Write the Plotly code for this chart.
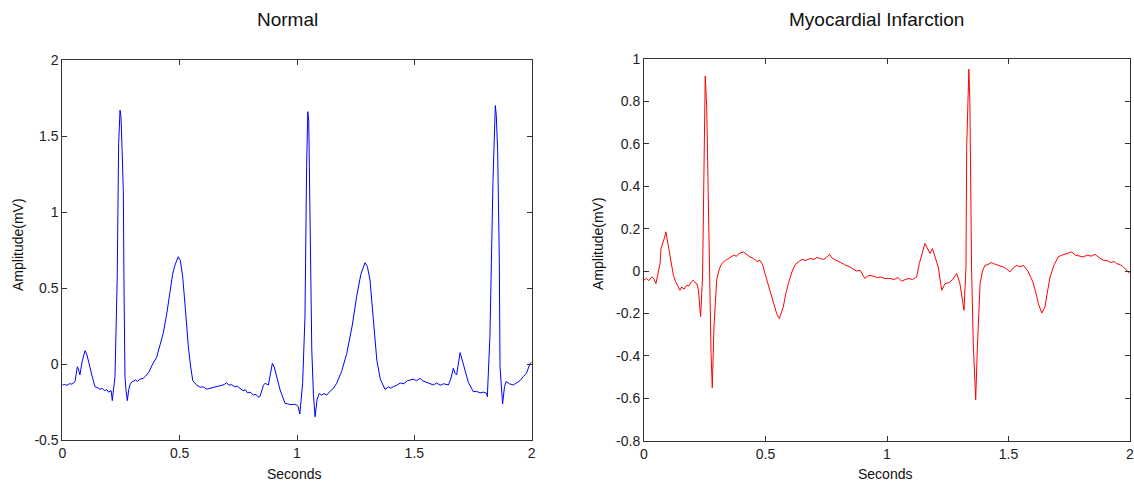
import plotly.graph_objects as go

# Normal ECG lead trace (seconds, mV)
normal_t = [0.000, 0.010, 0.020, 0.030, 0.040, 0.047, 0.055, 0.060, 0.064, 0.070, 0.075,
            0.085, 0.097, 0.105, 0.115, 0.127, 0.139, 0.150, 0.161, 0.170, 0.180, 0.190,
            0.197, 0.203, 0.208, 0.213, 0.2245, 0.234, 0.240, 0.246, 0.250, 0.255, 0.260,
            0.263, 0.267, 0.272, 0.277, 0.283, 0.288, 0.295, 0.303, 0.312, 0.320, 0.330,
            0.345, 0.355, 0.370, 0.385, 0.402, 0.415, 0.430, 0.445, 0.459, 0.470, 0.480,
            0.494, 0.503, 0.513, 0.525, 0.537, 0.547, 0.556, 0.570, 0.587, 0.600, 0.615,
            0.629, 0.645, 0.660, 0.680, 0.690, 0.700, 0.710, 0.720, 0.735, 0.745, 0.757,
            0.770, 0.780, 0.790, 0.800, 0.814, 0.825, 0.835, 0.842, 0.850, 0.857, 0.864,
            0.872, 0.878, 0.885, 0.895, 0.903, 0.911, 0.920, 0.928, 0.935, 0.949, 0.960,
            0.975, 0.988, 0.999, 1.005, 1.012, 1.024, 1.034, 1.041, 1.046, 1.050, 1.055,
            1.063, 1.070, 1.077, 1.086, 1.095, 1.105, 1.115, 1.127, 1.140, 1.155, 1.169,
            1.190, 1.212, 1.235, 1.254, 1.272, 1.290, 1.300, 1.311, 1.325, 1.340, 1.355,
            1.375, 1.390, 1.400, 1.410, 1.425, 1.440, 1.455, 1.470, 1.481, 1.495, 1.510,
            1.524, 1.535, 1.550, 1.565, 1.581, 1.595, 1.610, 1.625, 1.645, 1.655, 1.666,
            1.673, 1.680, 1.695, 1.705, 1.716, 1.730, 1.751, 1.765, 1.780, 1.795, 1.808,
            1.811, 1.822, 1.835, 1.845, 1.849, 1.855, 1.862, 1.865, 1.870, 1.876, 1.884,
            1.891, 1.905, 1.922, 1.935, 1.950, 1.964, 1.978, 1.993, 2.000]
normal_mv = [-0.138, -0.135, -0.140, -0.130, -0.132, -0.127, -0.110, -0.070, -0.018, -0.040, -0.072,
             0.020, 0.088, 0.060, 0.004, -0.080, -0.149, -0.155, -0.167, -0.160, -0.175, -0.168,
             -0.185, -0.182, -0.175, -0.241, -0.083, 0.570, 1.450, 1.670, 1.630, 1.400, 1.140,
             0.500, -0.083, -0.180, -0.241, -0.170, -0.138, -0.120, -0.112, -0.105, -0.115, -0.100,
             -0.094, -0.080, -0.050, 0.000, 0.044, 0.110, 0.202, 0.330, 0.487, 0.590, 0.650,
             0.706, 0.680, 0.574, 0.350, 0.114, -0.020, -0.110, -0.135, -0.153, -0.150, -0.165,
             -0.160, -0.155, -0.150, -0.140, -0.135, -0.123, -0.140, -0.135, -0.150, -0.145, -0.160,
             -0.175, -0.170, -0.190, -0.185, -0.204, -0.200, -0.218, -0.215, -0.180, -0.140, -0.127,
             -0.133, -0.138, -0.080, 0.004, -0.020, -0.072, -0.140, -0.171, -0.200, -0.259, -0.262,
             -0.268, -0.265, -0.270, -0.280, -0.329, -0.127, 0.311, 1.300, 1.660, 1.600, 1.000,
             0.092, -0.200, -0.347, -0.230, -0.193, -0.205, -0.195, -0.204, -0.180, -0.160, -0.127,
             -0.050, 0.070, 0.250, 0.443, 0.590, 0.667, 0.640, 0.553, 0.300, 0.026, -0.100,
             -0.167, -0.150, -0.160, -0.149, -0.140, -0.125, -0.130, -0.110, -0.105, -0.100, -0.110,
             -0.094, -0.110, -0.120, -0.130, -0.138, -0.125, -0.140, -0.130, -0.138, -0.100, -0.028,
             -0.060, -0.072, 0.075, 0.020, -0.039, -0.120, -0.182, -0.180, -0.190, -0.185, -0.193,
             -0.215, 0.180, 1.200, 1.700, 1.640, 1.400, 0.680, -0.018, -0.150, -0.263, -0.150,
             -0.116, -0.130, -0.138, -0.125, -0.110, -0.083, -0.060, 0.004, 0.010]

# Myocardial infarction trace (seconds, mV)
mi_t = [0.000, 0.010, 0.020, 0.032, 0.040, 0.049, 0.058, 0.066, 0.070, 0.078, 0.085,
        0.090, 0.095, 0.104, 0.112, 0.121, 0.130, 0.140, 0.148, 0.155, 0.165, 0.176,
        0.185, 0.195, 0.203, 0.210, 0.218, 0.224, 0.233, 0.241, 0.247, 0.252, 0.258,
        0.263, 0.269, 0.276, 0.281, 0.288, 0.299, 0.310, 0.320, 0.335, 0.350, 0.368,
        0.380, 0.395, 0.409, 0.420, 0.436, 0.450, 0.465, 0.477, 0.488, 0.498, 0.510,
        0.525, 0.536, 0.546, 0.557, 0.565, 0.573, 0.583, 0.594, 0.610, 0.622, 0.635,
        0.650, 0.665, 0.683, 0.700, 0.712, 0.724, 0.740, 0.752, 0.763, 0.775, 0.793,
        0.810, 0.825, 0.838, 0.848, 0.860, 0.875, 0.889, 0.900, 0.909, 0.918, 0.930,
        0.945, 0.960, 0.975, 0.990, 1.012, 1.030, 1.045, 1.060, 1.075, 1.090, 1.105,
        1.122, 1.133, 1.145, 1.156, 1.165, 1.177, 1.187, 1.198, 1.211, 1.225, 1.239,
        1.255, 1.270, 1.287, 1.300, 1.317, 1.325, 1.328, 1.333, 1.337, 1.341, 1.344,
        1.348, 1.355, 1.365, 1.372, 1.383, 1.393, 1.403, 1.415, 1.428, 1.438, 1.450,
        1.465, 1.479, 1.492, 1.506, 1.520, 1.533, 1.548, 1.561, 1.580, 1.600, 1.612,
        1.623, 1.637, 1.650, 1.660, 1.671, 1.688, 1.705, 1.720, 1.735, 1.760, 1.775,
        1.790, 1.808, 1.825, 1.840, 1.856, 1.870, 1.890, 1.905, 1.920, 1.935, 1.945,
        1.960, 1.973, 1.985, 2.000]
mi_mv = [-0.043, -0.035, -0.045, -0.028, -0.035, -0.059, -0.010, 0.035, 0.106, 0.130, 0.160,
         0.185, 0.150, 0.083, 0.030, -0.020, -0.050, -0.070, -0.091, -0.075, -0.085, -0.067,
         -0.070, -0.050, -0.043, -0.055, -0.060, -0.091, -0.214, -0.028, 0.618, 0.920, 0.775,
         0.413, -0.043, -0.390, -0.550, -0.264, -0.043, 0.010, 0.035, 0.050, 0.060, 0.075,
         0.070, 0.085, 0.090, 0.080, 0.067, 0.060, 0.045, 0.051, 0.030, -0.012, -0.060,
         -0.122, -0.170, -0.201, -0.224, -0.200, -0.170, -0.110, -0.059, 0.000, 0.030, 0.043,
         0.055, 0.050, 0.059, 0.055, 0.065, 0.059, 0.055, 0.065, 0.079, 0.060, 0.051,
         0.040, 0.030, 0.025, 0.019, 0.010, 0.000, 0.004, -0.020, -0.035, -0.025, -0.020,
         -0.025, -0.030, -0.028, -0.035, -0.035, -0.040, -0.030, -0.048, -0.040, -0.035, -0.040,
         -0.028, 0.035, 0.090, 0.130, 0.110, 0.083, 0.106, 0.067, 0.019, -0.091, -0.059,
         -0.055, -0.040, -0.012, -0.059, -0.185, 0.019, 0.586, 0.850, 0.952, 0.800, 0.460,
         0.019, -0.343, -0.607, -0.358, -0.059, 0.000, 0.027, 0.030, 0.040, 0.035, 0.030,
         0.025, 0.019, 0.010, -0.004, 0.015, 0.027, 0.020, 0.027, 0.000, -0.051, -0.100,
         -0.154, -0.198, -0.170, -0.100, -0.028, 0.030, 0.067, 0.075, 0.080, 0.090, 0.075,
         0.070, 0.067, 0.075, 0.070, 0.079, 0.065, 0.051, 0.050, 0.040, 0.045, 0.035,
         0.030, 0.019, 0.005, -0.012]

x_ticks = [0, 0.5, 1, 1.5, 2]
x_tick_text = ["0", "0.5", "1", "1.5", "2"]
normal_y_ticks = [-0.5, 0, 0.5, 1, 1.5, 2]
normal_y_text = ["-0.5", "0", "0.5", "1", "1.5", "2"]
mi_y_ticks = [-0.8, -0.6, -0.4, -0.2, 0, 0.2, 0.4, 0.6, 0.8, 1]
mi_y_text = ["-0.8", "-0.6", "-0.4", "-0.2", "0", "0.2", "0.4", "0.6", "0.8", "1"]

FONT = "Liberation Sans, Arial, sans-serif"
W, H = 1134, 484

fig = go.Figure()
fig.add_trace(go.Scatter(x=normal_t, y=normal_mv, mode="lines",
                         line=dict(color="#0000ff", width=1), xaxis="x", yaxis="y",
                         showlegend=False, hoverinfo="skip"))
fig.add_trace(go.Scatter(x=mi_t, y=mi_mv, mode="lines",
                         line=dict(color="#ff0000", width=1), xaxis="x2", yaxis="y2",
                         showlegend=False, hoverinfo="skip"))

axis_common = dict(showline=True, linecolor="#333333", linewidth=1, mirror="ticks",
                   ticks="inside", ticklen=5, tickcolor="#333333", showgrid=False,
                   zeroline=False, automargin=False, ticklabeloverflow="allow",
                   tickfont=dict(family=FONT, size=14, color="#222222"),
                   fixedrange=True)

fig.update_layout(
    template="none",
    width=W, height=H, autosize=False,
    margin=dict(l=0, r=0, t=0, b=0, pad=0),
    paper_bgcolor="white", plot_bgcolor="white",
    font=dict(family=FONT, color="#222222"),
    xaxis=dict(domain=[62.3 / W, 531.7 / W], range=[0, 2], tickvals=x_ticks,
               ticktext=x_tick_text, anchor="y", **axis_common),
    yaxis=dict(domain=[1 - 440 / H, 1 - 60 / H], range=[-0.5, 2], tickvals=normal_y_ticks,
               ticktext=normal_y_text, anchor="x", **axis_common),
    xaxis2=dict(domain=[644 / W, 1130 / W], range=[0, 2], tickvals=x_ticks,
                ticktext=x_tick_text, anchor="y2", **axis_common),
    yaxis2=dict(domain=[1 - 440.7 / H, 1 - 59 / H], range=[-0.8, 1], tickvals=mi_y_ticks,
                ticktext=mi_y_text, anchor="x2", **axis_common),
)

def label(text, x, y, size, angle=0):
    fig.add_annotation(text=text, x=x / W, y=1 - y / H, xref="paper", yref="paper",
                       showarrow=False, textangle=angle, xanchor="center", yanchor="middle",
                       font=dict(family=FONT, size=size, color="#111111"))

label("Normal", 287, 20, 19)
label("Myocardial Infarction", 876, 20, 19)
label("Seconds", 294, 474, 14)
label("Seconds", 885, 474, 14)
label("Amplitude(mV)", 18, 245, 14, -90)
label("Amplitude(mV)", 598, 244, 14, -90)

fig.write_html("out.html")
